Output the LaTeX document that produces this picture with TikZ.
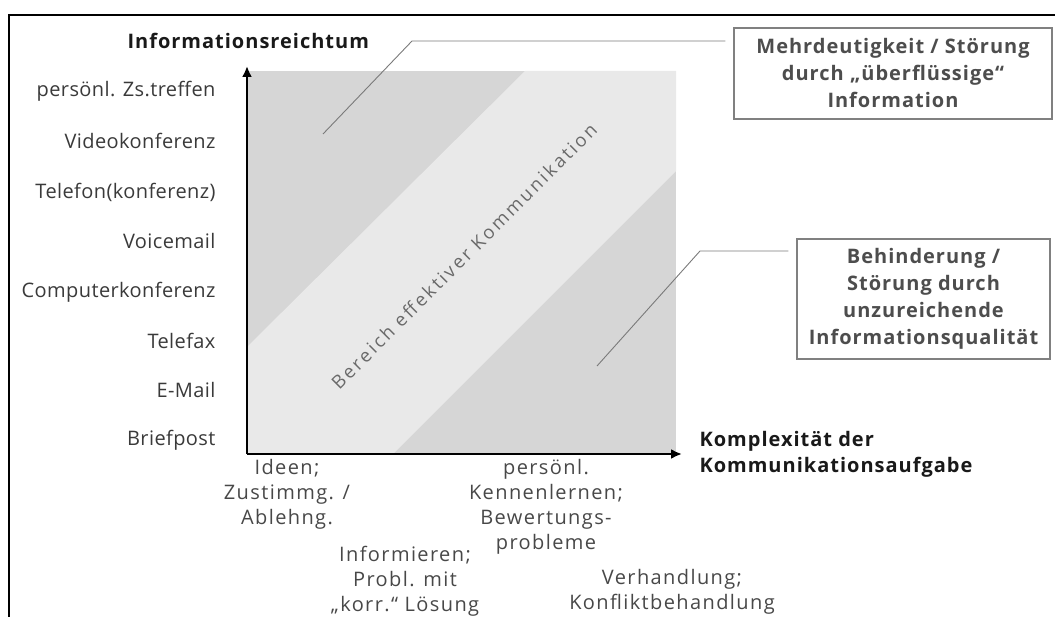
\documentclass[tikz,border=0pt]{standalone}
\usepackage{fontspec}
\setmainfont{Open Sans}
\newfontfamily\bandfont[LetterSpace=14]{Open Sans}
\usetikzlibrary{arrows.meta}
\definecolor{labgray}{HTML}{3A3A3A}
\definecolor{xlabgray}{HTML}{484848}
\definecolor{boxtext}{HTML}{4D4D4D}
\definecolor{boxgray}{HTML}{808080}
\definecolor{linegray}{HTML}{7A7A7A}
\definecolor{darkfill}{HTML}{D6D6D6}
\definecolor{bandfill}{HTML}{E9E9E9}
\definecolor{bandtext}{HTML}{6A6A6A}

\begin{document}
\begin{tikzpicture}[x=1pt,y=-1pt,
    ylab/.style={anchor=east,text=labgray,font=\addfontfeatures{LetterSpace=2}\fontsize{20}{25}\selectfont},
    xlab/.style={align=center,text=xlabgray,font=\addfontfeatures{LetterSpace=7}\fontsize{20}{25}\selectfont},
    titel/.style={align=left,text=black!90,font=\bfseries\addfontfeatures{LetterSpace=5}\fontsize{20}{26}\selectfont},
    kasten/.style={draw=boxgray,line width=1.3pt,align=center,text=boxtext,inner sep=0pt,font=\bfseries\addfontfeatures{LetterSpace=5}\fontsize{20}{27}\selectfont},
    leitung/.style={draw=linegray,line width=0.9pt}]
        \useasboundingbox (0,0) rectangle (1055,617);

        % 外框
        \draw[line width=2.2pt] (9,617) -- (9,15) -- (1055,15);

        % 灰色区域
        \fill[darkfill] (247,71) rectangle (676,454);
        \fill[bandfill] (247,347) -- (247,454) -- (393,454) -- (676,171) -- (676,71) -- (525,71) -- cycle;
        \node[rotate=45,text=bandtext,font=\bandfont\fontsize{18.5}{20}\selectfont] (band) at (464,256) {Bereich effektiver Kommunikation};

        % 坐标轴
        \coordinate (o) at (247,454);
        \draw[line width=2.4pt,-{Latex[length=11pt,width=10pt]}] (o) -- (247,66);
        \draw[line width=2.4pt,-{Latex[length=11pt,width=10pt]}] (o) -- (682,454);
        \node[titel,anchor=west] (ytitel) at (124,41) {Informationsreichtum};
        \node[titel,anchor=west] (xtitel) at (696,454) {Komplexität der\\Kommunikationsaufgabe};

        % y轴标签
        \node[ylab] (treffen) at (219,91.5) {persönl. Zs.treffen};
        \node[ylab] (video) at (219,141) {Videokonferenz};
        \node[ylab] (telefon) at (219,192) {Telefon(konferenz)};
        \node[ylab] (voice) at (219,241) {Voicemail};
        \node[ylab] (computer) at (219,292) {Computerkonferenz};
        \node[ylab] (fax) at (219,341) {Telefax};
        \node[ylab] (mail) at (219,390.5) {E-Mail};
        \node[ylab] (brief) at (219,440) {Briefpost};

        % x轴标签
        \node[xlab,anchor=north] (ideen) at (287,456) {Ideen;\\Zustimmg. /\\Ablehng.};
        \node[xlab,anchor=north] (kennen) at (546,456) {persönl.\\Kennenlernen;\\Bewertungs-\\probleme};
        \node[xlab,anchor=north] (inform) at (405,543) {Informieren;\\Probl. mit\\„korr.“ Lösung};
        \node[xlab,anchor=north] (verhand) at (672,566) {Verhandlung;\\Konfliktbehandlung};

        % 说明框
        \node[kasten,minimum width=318pt,minimum height=91pt] (stoer1) at (893,73.5) {Mehrdeutigkeit / Störung\\durch „überflüssige“\\Information};
        \node[kasten,minimum width=253pt,minimum height=120pt] (stoer2) at (923.5,299) {Behinderung /\\Störung durch\\unzureichende\\Informationsqualität};

        % 引线
        \coordinate (p1) at (323,134);
        \coordinate (k1) at (412,41);
        \coordinate (p2) at (597,366);
        \coordinate (k2) at (700,251);
        \draw[leitung,shorten >=8pt] (p1) -- (k1) -- (k1 -| stoer1.west);
        \draw[leitung,shorten >=8pt] (p2) -- (k2) -- (k2 -| stoer2.west);
    \end{tikzpicture}
\end{document}
